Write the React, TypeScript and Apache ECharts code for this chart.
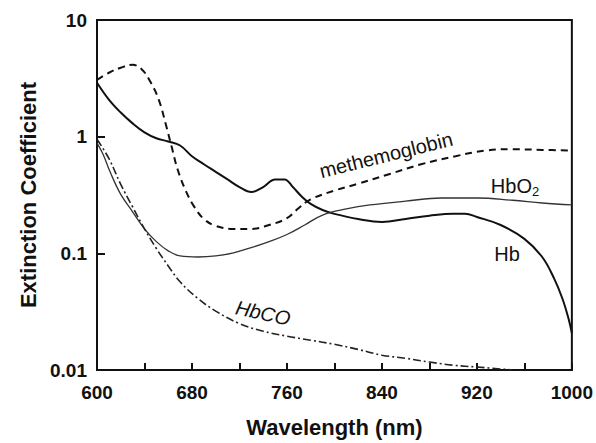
import React, { useEffect, useRef } from "react";
import * as echarts from "echarts";

// wavelength (nm) / extinction coefficient pairs
const hbX = [600, 610, 620, 630, 640, 650, 660, 670, 680, 690, 700, 710, 720, 730, 740, 750, 758, 765, 772, 780, 790, 800, 820, 840, 860, 880, 900, 910, 920, 940, 960, 975, 985, 992, 997, 1000];
const hbY = [2.9, 2.08, 1.61, 1.3, 1.09, 0.97, 0.91, 0.84, 0.68, 0.58, 0.5, 0.43, 0.37, 0.335, 0.37, 0.43, 0.43, 0.37, 0.31, 0.265, 0.235, 0.218, 0.197, 0.186, 0.197, 0.21, 0.218, 0.218, 0.205, 0.175, 0.133, 0.093, 0.061, 0.041, 0.028, 0.0207];

const metX = [600, 610, 620, 630, 638, 645, 652, 658, 663, 668, 675, 682, 690, 700, 715, 730, 745, 760, 770, 780, 800, 820, 846, 873, 902, 927, 950, 975, 1000];
const metY = [3.07, 3.53, 3.9, 4.13, 3.75, 2.95, 2.08, 1.27, 0.81, 0.52, 0.34, 0.25, 0.197, 0.172, 0.162, 0.162, 0.175, 0.2, 0.245, 0.29, 0.345, 0.395, 0.477, 0.58, 0.68, 0.76, 0.78, 0.77, 0.76];

const hbo2X = [600, 605, 611, 620, 630, 640, 650, 660, 670, 685, 700, 715, 730, 745, 760, 775, 790, 810, 830, 860, 890, 920, 950, 975, 1000];
const hbo2Y = [0.88, 0.71, 0.5, 0.32, 0.227, 0.162, 0.126, 0.105, 0.095, 0.093, 0.095, 0.101, 0.112, 0.126, 0.145, 0.175, 0.213, 0.24, 0.26, 0.28, 0.298, 0.298, 0.285, 0.27, 0.26];

const hbcoX = [600, 610, 620, 630, 640, 650, 660, 670, 685, 700, 720, 740, 760, 780, 800, 820, 840, 860, 880, 900, 920, 940, 950];
const hbcoY = [0.95, 0.65, 0.39, 0.25, 0.162, 0.11, 0.078, 0.057, 0.041, 0.032, 0.025, 0.0215, 0.0195, 0.018, 0.0166, 0.015, 0.0134, 0.0126, 0.0117, 0.011, 0.0106, 0.0102, 0.01];

const yTickLabels: Record<string, string> = { "0.01": "0.01", "0.1": "0.1", "1": "1", "10": "10" };

const zip = (xs: number[], ys: number[]) => xs.map((x, i) => [x, ys[i]]);

const FONT = "Liberation Sans";

export default function App() {
  const ref = useRef<HTMLDivElement>(null);
  useEffect(() => {
    if (!ref.current) return;
    const chart = echarts.init(ref.current, undefined, { renderer: "svg" });
    chart.setOption({
      animation: false,
      backgroundColor: "#fff",
      grid: {
        left: 97,
        right: 22,
        top: 20,
        bottom: 71,
        show: true,
        borderColor: "#111",
        borderWidth: 2,
        backgroundColor: "transparent",
      },
      xAxis: {
        type: "value",
        min: 600,
        max: 1000,
        interval: 40,
        name: "Wavelength (nm)",
        nameLocation: "middle",
        nameGap: 46,
        nameTextStyle: { fontFamily: FONT, fontWeight: "bold", fontSize: 22, color: "#111" },
        axisLine: { lineStyle: { color: "#111", width: 2 } },
        axisTick: { inside: true, length: 7, lineStyle: { color: "#111", width: 2 } },
        splitLine: { show: false },
        axisLabel: {
          fontFamily: FONT,
          fontWeight: "bold",
          fontSize: 19,
          color: "#111",
          margin: 13,
          formatter: (v: number) => ((v - 600) % 80 === 0 ? String(v) : ""),
        },
      },
      yAxis: {
        type: "log",
        logBase: 10,
        min: 0.01,
        max: 10,
        name: "Extinction Coefficient",
        nameLocation: "middle",
        nameGap: 55,
        nameRotate: 90,
        nameTextStyle: { fontFamily: FONT, fontWeight: "bold", fontSize: 22, color: "#111" },
        axisLine: { lineStyle: { color: "#111", width: 2 } },
        axisTick: { inside: true, length: 8, lineStyle: { color: "#111", width: 2 } },
        splitLine: { show: false },
        minorTick: { show: false },
        axisLabel: {
          fontFamily: FONT,
          fontWeight: "bold",
          fontSize: 19,
          color: "#111",
          margin: 10,
          formatter: (v: number) => yTickLabels[String(+v.toPrecision(3))] ?? String(v),
        },
      },
      series: [
        {
          name: "Hb",
          type: "line",
          data: zip(hbX, hbY),
          smooth: 0.4,
          showSymbol: false,
          lineStyle: { color: "#111", width: 2 },
        },
        {
          name: "methemoglobin",
          type: "line",
          data: zip(metX, metY),
          smooth: 0.4,
          showSymbol: false,
          lineStyle: { color: "#111", width: 2, type: [7, 5] },
        },
        {
          name: "HbO2",
          type: "line",
          data: zip(hbo2X, hbo2Y),
          smooth: 0.4,
          showSymbol: false,
          lineStyle: { color: "#333", width: 1.3 },
        },
        {
          name: "HbCO",
          type: "line",
          data: zip(hbcoX, hbcoY),
          smooth: 0.4,
          showSymbol: false,
          lineStyle: { color: "#222", width: 1.6, type: [8, 3, 2, 3] },
        },
      ],
      graphic: [
        {
          type: "text",
          x: 386,
          y: 155,
          rotation: (14 * Math.PI) / 180,
          style: {
            text: "methemoglobin",
            font: `20px "${FONT}"`,
            fill: "#111",
            align: "center",
            verticalAlign: "middle",
          },
        },
        {
          type: "text",
          x: 515,
          y: 186,
          style: {
            text: "{a|HbO}{b|2}",
            rich: {
              a: { fontFamily: FONT, fontSize: 20, fill: "#111" },
              b: { fontFamily: FONT, fontSize: 13, fill: "#111", padding: [10, 0, 0, 0] },
            },
            align: "center",
            verticalAlign: "middle",
          },
        },
        {
          type: "text",
          x: 507,
          y: 254,
          style: {
            text: "Hb",
            font: `20px "${FONT}"`,
            fill: "#111",
            align: "center",
            verticalAlign: "middle",
          },
        },
        {
          type: "text",
          x: 263,
          y: 313,
          rotation: (-12 * Math.PI) / 180,
          style: {
            text: "HbCO",
            font: `italic 20px "${FONT}"`,
            fill: "#111",
            align: "center",
            verticalAlign: "middle",
          },
        },
      ],
    });
    return () => chart.dispose();
  }, []);
  return <div ref={ref} style={{ position: "fixed", left: 0, top: 0, width: 596, height: 443 }} />;
}
